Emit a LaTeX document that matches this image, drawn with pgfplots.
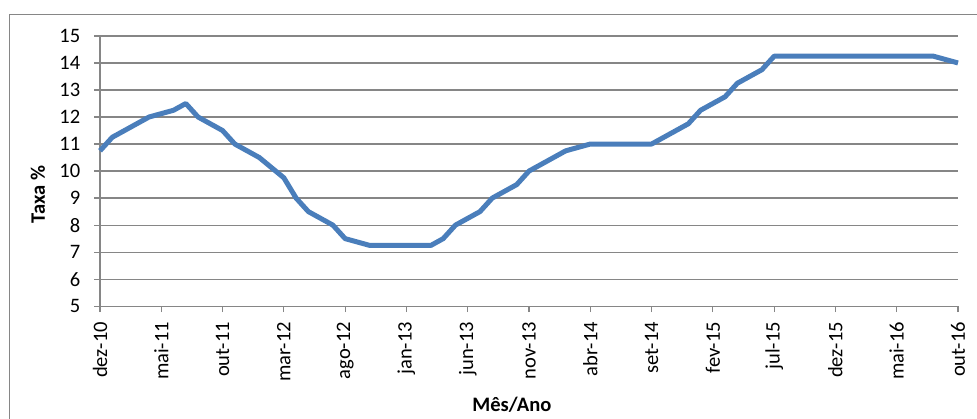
\documentclass[border=0pt]{standalone}
\usepackage{pgfplots}
\pgfplotsset{compat=1.18}
\usepackage{fontspec}
\setmainfont{Carlito}
\definecolor{linhaazul}{RGB}{74,126,187}
\definecolor{grade}{RGB}{134,134,134}
\begin{document}
\begin{tikzpicture}
\useasboundingbox (0,0) rectangle (732.75pt,313.5pt);
% moldura da area do grafico
\draw[grade, line width=0.75pt] (6.75pt,-20pt) -- (6.75pt,302.25pt) -- (760pt,302.25pt);
\begin{axis}[
  at={(75pt,83.85pt)}, anchor=south west,
  scale only axis,
  width=643.5pt, height=202.7pt,
  xmin=0, xmax=70, ymin=5, ymax=15,
  xtick={0,5,...,70},
  xticklabels={dez-10,mai-11,out-11,mar-12,ago-12,jan-13,jun-13,nov-13,abr-14,set-14,fev-15,jul-15,dez-15,mai-16,out-16},
  ytick={5,6,...,15},
  axis x line=bottom, axis y line=left,
  axis line style={grade, line width=0.9pt, -},
  tick style={grade, line width=0.9pt},
  tick align=outside, major tick length=4.5pt,
  ymajorgrids, grid style={grade, line width=0.9pt},
  tick label style={font=\fontsize{15.4}{18}\selectfont, inner sep=0pt},
  /pgf/number format/assume math mode=true,
  xticklabel style={rotate=90, anchor=east},
  xticklabel shift=7.1pt,
  yticklabel shift=10.1pt,
  yticklabel style={anchor=east},
  label style={font=\bfseries\fontsize{15.4}{18}\selectfont},
  xlabel={Mês/Ano},
  ylabel={Taxa \%},
  xlabel style={at={(axis description cs:0.48,-0.366)}, anchor=center},
  ylabel style={at={(axis description cs:-0.0723,0.4125)}, anchor=center, rotate=0},
  clip=false,
]
\addplot[linhaazul, line width=3.75pt, line join=round] coordinates {
(0,10.75)(1,11.25)(4,12.0)(6,12.25)(7,12.5)(8,12.0)(10,11.5)(11,11.0)
(13,10.5)(15,9.75)(16,9.0)(17,8.5)(19,8.0)(20,7.5)(22,7.25)(27,7.25)
(28,7.5)(29,8.0)(31,8.5)(32,9.0)(34,9.5)(35,10.0)(38,10.75)(40,11.0)
(45,11.0)(48,11.75)(49,12.25)(51,12.75)(52,13.25)(54,13.75)(55,14.25)
(68,14.25)(70,14.0)};
\end{axis}
\end{tikzpicture}
\end{document}
